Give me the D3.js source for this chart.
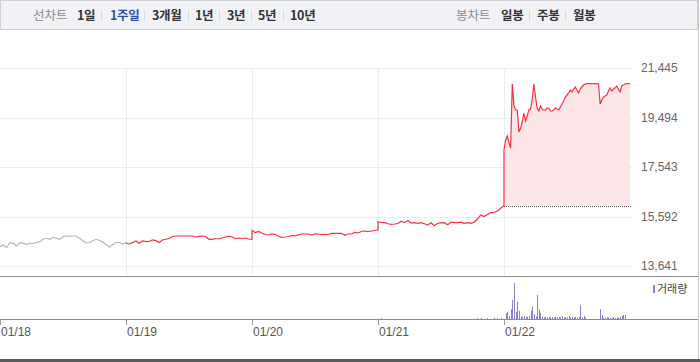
<!DOCTYPE html>
<html>
<head>
<meta charset="utf-8">
<script src="https://cdn.jsdelivr.net/npm/d3@7"></script>
<style>
    body { margin: 0; background: #fff; }
    svg { display: block; }
</style>
</head>
<body>
<svg id="chart" width="700" height="362"></svg>
<script>
// 기간 / 축 데이터
var dayLabels = ["01/18", "01/19", "01/20", "01/21", "01/22"];
var priceTicks = [13641, 15592, 17543, 19494, 21445];
var prevClose = 16020;
var leftMenu = ["1일", "1주일", "3개월", "1년", "3년", "5년", "10년"];
var rightMenu = ["일봉", "주봉", "월봉"];
var selectedMenu = "1주일";

// 가격 (일자별)
var price0118 = [14402, 14469, 14371, 14560, 14536, 14430, 14560, 14536, 14489, 14548, 14536, 14568, 14600, 14694, 14733, 14694, 14773, 14733, 14694, 14796,
    14824, 14824, 14824, 14824, 14733, 14639, 14548, 14568, 14639, 14694, 14647, 14588, 14489, 14379, 14489, 14568, 14568, 14509, 14560];
var price0119 = [14548, 14509, 14560, 14627, 14536, 14627, 14600, 14607, 14666, 14639, 14568, 14666, 14694, 14725, 14804, 14824, 14824, 14824, 14824, 14824,
    14824, 14785, 14812, 14824, 14804, 14694, 14694, 14725, 14706, 14745, 14785, 14812, 14785, 14725, 14745, 14725, 14745, 14706, 14694];
var price0120 = [15041, 14954, 15001, 14930, 14883, 14863, 14903, 14883, 14812, 14772, 14785, 14804, 14844, 14824, 14875, 14903, 14903, 14903, 14863, 14912,
    14903, 14883, 14891, 14883, 14930, 14930, 14930, 14930, 14851, 14903, 14903, 14962, 14942, 15001, 15021, 14993, 15021, 15041, 15061];
var price0121 = [15388, 15356, 15348, 15305, 15285, 15297, 15317, 15404, 15348, 15435, 15329, 15348, 15325, 15348, 15305, 15258, 15348, 15230, 15325, 15337,
    15348, 15270, 15368, 15348, 15348, 15368, 15325, 15348, 15325, 15364, 15494, 15652, 15593, 15671, 15742, 15750, 15809, 15915, 16020];
var price0122 = [18213, 18607, 18765, 18489, 18292, 20814, 19947, 19790, 19790, 18923, 19080, 19317, 19671, 19356, 19553, 19790, 19829, 20184, 20814, 20302,
    19868, 19750, 19947, 19829, 19790, 19790, 19868, 19868, 19750, 19750, 19790, 19868, 19829, 19790, 19908, 20026, 20144, 20302, 20381, 20460,
    20578, 20499, 20617, 20696, 20578, 20460, 20617, 20696, 20775, 20814, 20826, 20826, 20826, 20826, 20826, 20826, 20826, 20814, 20026, 20184,
    20302, 20341, 20381, 20538, 20657, 20538, 20617, 20657, 20736, 20617, 20499, 20736, 20775, 20814, 20826, 20826, 20826];

// 거래량
var vol0121 = [0, 50, 0, 0, 0, 0, 0, 0, 0, 0, 0, 0, 0, 0, 0, 0, 0, 0, 0, 0,
    0, 0, 0, 0, 0, 0, 0, 0, 0, 0, 50, 60, 0, 50, 0, 60, 50, 70, 0];
var vol0122 = [0, 285, 350, 150, 485, 950, 1785, 365, 865, 415, 120, 120, 150, 120, 100, 150, 415, 615, 250, 120,
    1200, 485, 315, 120, 80, 120, 80, 100, 80, 100, 80, 100, 80, 100, 80, 150, 80, 100, 80, 150,
    80, 100, 80, 100, 80, 100, 700, 80, 150, 80, 0, 0, 0, 0, 0, 0, 0, 0, 485, 200,
    50, 60, 80, 80, 50, 60, 80, 60, 80, 60, 100, 150, 200, 200, 0, 0, 0];

var svg = d3.select("#chart");
var FONT = "'Liberation Sans', Arial, sans-serif";
var KFONT = "'Noto Sans CJK KR', sans-serif";

// 일자 배열 -> {t, v}
function toPoints(arr, day) {
    return arr.map(function(v, i) {
        return { t: day + i / (arr.length - 1), v: v };
    });
}

var x = d3.scaleLinear().domain([0, 5]).range([0, 630]);
var y = d3.scaleLinear().domain([priceTicks[0], priceTicks[priceTicks.length - 1]]).range([266, 68]);
var yVol = d3.scaleLinear().domain([0, 2000]).range([319, 279]);

var grayPts = toPoints(price0118, 0);
var redPts = [].concat(toPoints(price0119, 1), toPoints(price0120, 2), toPoints(price0121, 3), toPoints(price0122, 4));
var lastPts = toPoints(price0122, 4);

// 상단 메뉴 (항목 위치는 고정)
function drawMenu() {
    svg.append("rect").attr("x", 0.5).attr("y", 0.5).attr("width", 697).attr("height", 29)
        .attr("fill", "#f1f2f6").attr("stroke", "#cfd0d4");

    function group(title, titleX, itemX, sepX, items) {
        svg.append("text").attr("x", titleX).attr("y", 20).text(title)
            .attr("font-family", KFONT).attr("font-size", 12.5).attr("fill", "#8a8a8a");
        items.forEach(function(item, i) {
            svg.append("text").attr("x", itemX[i]).attr("y", 20).text(item)
                .attr("font-family", KFONT).attr("font-size", 12.5).attr("font-weight", "bold")
                .attr("letter-spacing", -0.3)
                .attr("fill", item == selectedMenu ? "#2c51a8" : "#333");
        });
        sepX.forEach(function(sx) {
            svg.append("line").attr("x1", sx + 0.5).attr("x2", sx + 0.5)
                .attr("y1", 10).attr("y2", 21).attr("stroke", "#d8d9dd");
        });
    }
    group("선차트", 33, [77, 110, 152, 195, 227, 258, 290], [101, 144, 188, 219, 251, 283], leftMenu);
    group("봉차트", 456, [501, 537, 573], [529, 565], rightMenu);
}

// 그리드 + 가격축
function drawGrid() {
    svg.selectAll(".hgrid").data(priceTicks).enter().append("line")
        .attr("x1", 0).attr("x2", 632)
        .attr("y1", function(d) { return Math.round(y(d)) + 0.5 })
        .attr("y2", function(d) { return Math.round(y(d)) + 0.5 })
        .attr("stroke", "#ececec");

    svg.selectAll(".vgrid").data([1, 2, 3, 4]).enter().append("line")
        .attr("x1", function(d) { return Math.round(x(d)) + 0.5 })
        .attr("x2", function(d) { return Math.round(x(d)) + 0.5 })
        .attr("y1", 68).attr("y2", 276)
        .attr("stroke", "#ececec");

    svg.selectAll(".plabel").data(priceTicks).enter().append("text")
        .attr("x", 641).attr("y", function(d) { return y(d) + 4 })
        .attr("font-family", FONT).attr("font-size", 12).attr("fill", "#666")
        .text(d3.format(","));
}

// 가격 라인
function drawPrice() {
    var area = d3.area()
        .x(function(d) { return x(d.t) })
        .y0(y(prevClose))
        .y1(function(d) { return y(d.v) });
    svg.append("path").datum(lastPts).attr("d", area).attr("fill", "#fde6e8");

    svg.append("line")
        .attr("x1", x(4)).attr("x2", x(5) + 2)
        .attr("y1", Math.round(y(prevClose)) + 0.5).attr("y2", Math.round(y(prevClose)) + 0.5)
        .attr("stroke", "#555").attr("stroke-dasharray", "1,1");

    var line = d3.line().x(function(d) { return x(d.t) }).y(function(d) { return y(d.v) });
    svg.append("path").datum(grayPts).attr("d", line)
        .attr("fill", "none").attr("stroke", "#b5b5b5").attr("stroke-width", 1.2);
    svg.append("path").datum(redPts).attr("d", line)
        .attr("fill", "none").attr("stroke", "#f2343f").attr("stroke-width", 1.2);
}

// 거래량 패널
function drawVolume() {
    svg.append("line").attr("x1", 0).attr("x2", 698).attr("y1", 276.5).attr("y2", 276.5).attr("stroke", "#8d8d8d");

    var bars = [].concat(toPoints(vol0121, 3), toPoints(vol0122, 4)).filter(function(d) { return d.v > 0 });
    svg.selectAll(".vbar").data(bars).enter().append("rect")
        .attr("x", function(d) { return Math.round(x(d.t)) })
        .attr("width", 1)
        .attr("y", function(d) { return yVol(d.v) })
        .attr("height", function(d) { return 319 - yVol(d.v) })
        .attr("fill", "#8f7fc4");

    svg.append("rect").attr("x", 653).attr("y", 285).attr("width", 2).attr("height", 8).attr("fill", "#8f7fc4");
    svg.append("text").attr("x", 657).attr("y", 293).text("거래량")
        .attr("font-family", KFONT).attr("font-size", 11).attr("fill", "#444");

    svg.append("line").attr("x1", 0).attr("x2", 698).attr("y1", 319.5).attr("y2", 319.5).attr("stroke", "#8d8d8d");
    svg.selectAll(".tick").data(dayLabels).enter().append("line")
        .attr("x1", function(d, i) { return Math.round(x(i)) + 0.5 })
        .attr("x2", function(d, i) { return Math.round(x(i)) + 0.5 })
        .attr("y1", 320).attr("y2", 325).attr("stroke", "#999");
    svg.selectAll(".dlabel").data(dayLabels).enter().append("text")
        .attr("x", function(d, i) { return Math.round(x(i)) + 1 })
        .attr("y", 336)
        .attr("font-family", FONT).attr("font-size", 12).attr("fill", "#555")
        .text(function(d) { return d });

    // 테두리
    svg.append("line").attr("x1", 698.5).attr("x2", 698.5).attr("y1", 0).attr("y2", 360).attr("stroke", "#c8c8c8");
    svg.append("rect").attr("x", 0).attr("y", 359).attr("width", 700).attr("height", 3).attr("fill", "#5a5a5a");
}

drawMenu();
drawGrid();
drawPrice();
drawVolume();
</script>
</body>
</html>
